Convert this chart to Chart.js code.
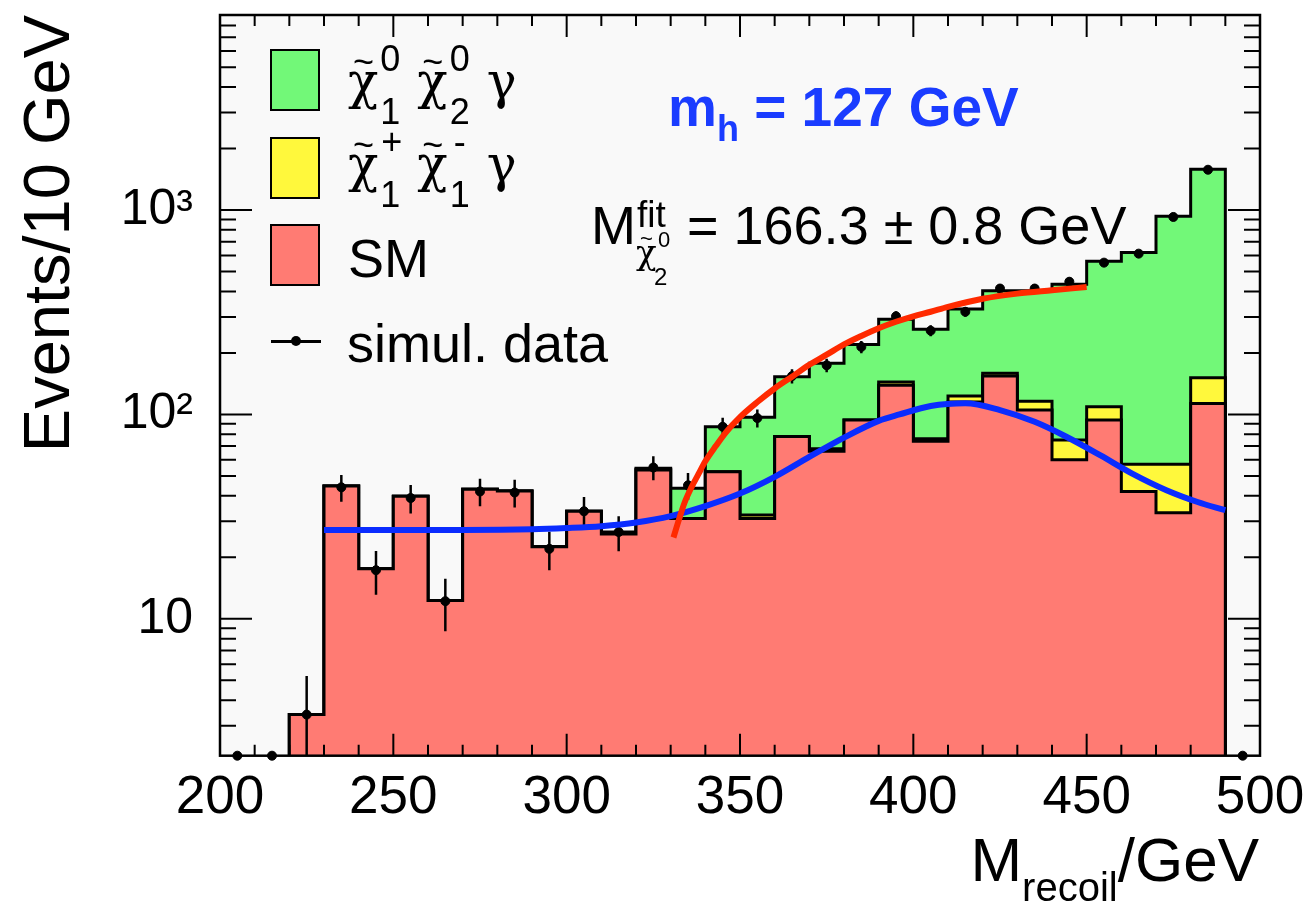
<!DOCTYPE html>
<html lang="en">
<head>
<meta charset="UTF-8">
<title>Recoil mass spectrum</title>
<script src="https://cdn.jsdelivr.net/npm/chart.js"></script>
<style>
  html, body { margin: 0; background: #fff; overflow: hidden; }
  #wrap { position: relative; width: 1310px; height: 904px; font-family: 'Liberation Sans', Arial, sans-serif; color: #000; }
  .txt { position: absolute; line-height: 1; white-space: nowrap; }
  .box { position: absolute; left: 270px; width: 50px; height: 62px; border: 2.5px solid #000; box-sizing: border-box; }
  .ss { display: inline-block; position: relative; height: 0; }
  .ss > span { position: absolute; line-height: 1; }
  .chi { position: relative; display: inline-block; font-family: 'DejaVu Serif', serif; font-size: 50px; }
  .chi .tl { position: absolute; left: 5px; top: -12px; font-family: 'Liberation Sans', Arial, sans-serif; font-size: 36px; }
  .chi.sm { font-size: 34px; }
  .chi.sm .tl { left: 4px; top: -7px; font-size: 22px; }
  .gam { font-family: 'DejaVu Serif', serif; font-size: 50px; }
</style>
</head>
<body>
<div id="wrap">
  <canvas id="plot"></canvas>

  <div class="box" style="top:49px; background:#72f878"></div>
  <div class="box" style="top:137px; background:#fff83c"></div>
  <div class="box" style="top:224px; background:#ff7b73"></div>
  <div style="position:absolute; left:271px; top:340px; width:50px; height:2.5px; background:#000"></div>
  <div style="position:absolute; left:291px; top:336px; width:10px; height:10px; border-radius:50%; background:#000"></div>

  <div class="txt" style="left:348px; top:52px; font-size:54px"><span class="chi">χ<span class="tl">~</span></span><span class="ss" style="width:24px"><span style="font-size:36px; left:2px; bottom:21px">0</span><span style="font-size:36px; left:2px; bottom:-32px">1</span></span> <span class="chi">χ<span class="tl">~</span></span><span class="ss" style="width:24px"><span style="font-size:36px; left:2px; bottom:21px">0</span><span style="font-size:36px; left:2px; bottom:-32px">2</span></span> <span class="gam">γ</span></div>
  <div class="txt" style="left:348px; top:135px; font-size:54px"><span class="chi">χ<span class="tl">~</span></span><span class="ss" style="width:24px"><span style="font-size:36px; left:3px; bottom:21px">+</span><span style="font-size:36px; left:2px; bottom:-32px">1</span></span> <span class="chi">χ<span class="tl">~</span></span><span class="ss" style="width:24px"><span style="font-size:36px; left:6px; bottom:21px">-</span><span style="font-size:36px; left:2px; bottom:-32px">1</span></span> <span class="gam">γ</span></div>
  <div class="txt" style="left:348px; top:231px; font-size:54px">SM</div>
  <div class="txt" style="left:347px; top:316px; font-size:54px">simul. data</div>

  <div class="txt" style="left:668px; top:80px; font-size:55px; font-weight:bold; color:#1a3cff">m<span style="font-size:36px; vertical-align:-15px">h</span> = 127 GeV</div>
  <div class="txt" style="left:591px; top:198px; font-size:54px">M<span class="ss" style="width:36px"><span style="font-size:37px; left:1px; bottom:11px">fit</span><span style="font-size:34px; left:0; bottom:-25px"><span class="chi sm">χ<span class="tl">~</span></span></span><span style="font-size:22px; left:22px; bottom:-7px">0</span><span style="font-size:24px; left:18px; bottom:-45px">2</span></span> = 166.3 ± 0.8 GeV</div>

  <div class="txt" style="right:51px; top:829px; font-size:62px">M<span style="font-size:40px; vertical-align:-20px">recoil</span>/GeV</div>
</div>

<script>
  // 10 GeV bins of the recoil mass
  const binEdges = [200, 210, 220, 230, 240, 250, 260, 270, 280, 290, 300, 310, 320, 330, 340, 350,
                    360, 370, 380, 390, 400, 410, 420, 430, 440, 450, 460, 470, 480, 490, 500];

  // stacked contributions, events per bin
  const smEvents =         [0, 0, 3.4, 44.6, 17.6, 39.8, 12.3, 43, 42.2, 22.5, 33.6, 26, 53.5, 31, 52.5,
                            31, 78, 66, 94, 139, 74, 115, 154, 105, 60, 94, 42, 33, 113, 0];
  const charginoEvents =   [0, 0, 0, 0, 0, 0, 0, 0, 0, 0, 0, 0.3, 0.5, 0, 0,
                            1.2, 0, 2, 0, 5, 2, 8, 5, 11, 15, 15, 15, 24, 38, 0];
  const neutralinoEvents = [0, 0, 0, 0, 0, 0, 0, 0, 0, 0, 0, 0.3, 0.5, 12.5, 34.5,
                            64.8, 75, 110, 126, 148, 185, 205, 244, 287, 359, 453, 563, 876, 1434, 0];

  const simData = [0, 0, 3.4, 44, 17.3, 39, 12.2, 42, 41.5, 22, 33.6, 26.6, 55, 45, 87,
                   96, 154, 174, 214, 302, 257, 318, 413, 413, 446, 553, 612, 925, 1575, 0];
  const simErr  = [0, 0, 1.85, 6.6, 4.2, 6.2, 3.5, 6.5, 6.4, 4.7, 5.8, 5.2, 7.4, 6.7, 9.3,
                   9.8, 12.4, 13.2, 14.6, 17.4, 16, 17.8, 20.3, 20.3, 21.1, 23.5, 24.7, 30.4, 39.7, 0];

  // fitted curves
  const fitChiX = [330.8, 332.5, 334, 336, 338, 340, 343, 346, 350, 355, 360, 365, 370, 375, 380,
                   385, 390, 395, 400, 405, 410, 420, 430, 440, 450];
  const fitChiY = [25, 31, 37, 44, 51, 59, 70, 82, 97, 115, 134, 153, 175, 196, 220,
                   242, 264, 284, 302, 318, 336, 368, 390, 405, 420];
  const fitSmX = [230, 250, 270, 290, 300, 310, 320, 330, 340, 350, 360, 370, 380, 390, 396,
                  405, 415, 425, 435, 444, 454, 463, 473, 482, 490];
  const fitSmY = [27.2, 27.2, 27.2, 27.4, 27.8, 28.4, 29.6, 31.8, 35.6, 41, 49.5, 62, 77, 93, 100,
                  110, 113.5, 105, 92, 78, 63, 51.5, 42.6, 37.3, 34];

  const yTickValues = [10, 100, 1000];
  const yTickLabels = ['10', '10²', '10³'];

  const Y_MIN = 2.14, Y_MAX = 9000;
  const FONT = "'Liberation Sans', Arial, sans-serif";

  const binCentres = binEdges.slice(0, -1).map((e, i) => (e + binEdges[i + 1]) / 2);

  // outline of a stacked histogram, closed down to the axis at both ends
  function stackLine(parts) {
    const tot = binCentres.map((c, i) => parts.reduce((s, p) => s + p[i], 0));
    const used = tot.map((t, i) => t > 0 ? i : -1).filter(i => i >= 0);
    const first = used[0], last = used[used.length - 1];
    const pts = [{x: binEdges[first], y: Y_MIN}];
    for (let i = first; i <= last; i++) pts.push({x: binEdges[i], y: tot[i]});
    pts.push({x: binEdges[last + 1], y: tot[last]});
    pts.push({x: binEdges[last + 1], y: Y_MIN});
    return pts;
  }

  function histSet(label, parts, color) {
    return {
      label: label,
      data: stackLine(parts),
      stepped: true,
      fill: 'start',
      backgroundColor: color,
      borderColor: '#000',
      borderWidth: 3,
      borderJoinStyle: 'miter',
      pointRadius: 0
    };
  }

  const DATA_INDEX = 2;

  const errorBars = {
    id: 'errorBars',
    beforeDatasetDraw(chart, args) {
      if (args.index !== DATA_INDEX) return;
      const {ctx, chartArea: a, scales: {x, y}} = chart;
      ctx.save();
      ctx.beginPath();
      ctx.rect(a.left, a.top, a.width, a.height);
      ctx.clip();
      ctx.strokeStyle = '#000';
      ctx.lineWidth = 2.5;
      ctx.beginPath();
      simData.forEach((v, i) => {
        if (v <= 0 || simErr[i] <= 0) return;
        const px = x.getPixelForValue(binCentres[i]);
        ctx.moveTo(px, y.getPixelForValue(v + simErr[i]));
        ctx.lineTo(px, y.getPixelForValue(Math.max(v - simErr[i], Y_MIN / 2)));
      });
      ctx.stroke();
      ctx.restore();
    }
  };

  const frame = {
    id: 'frame',
    beforeDraw(chart) {
      const {ctx, chartArea: a} = chart;
      ctx.save();
      ctx.fillStyle = '#f9f9f9';
      ctx.fillRect(a.left, a.top, a.width, a.height);
      ctx.restore();
    },
    afterDraw(chart) {
      const {ctx, chartArea: a, scales: {x, y}} = chart;
      ctx.save();
      ctx.strokeStyle = '#000';
      ctx.lineWidth = 2;
      ctx.beginPath();
      for (let v = 200; v <= 500; v += 10) {
        const px = x.getPixelForValue(v);
        const len = v % 50 === 0 ? 22 : 11;
        ctx.moveTo(px, a.bottom); ctx.lineTo(px, a.bottom - len);
        ctx.moveTo(px, a.top); ctx.lineTo(px, a.top + len);
      }
      for (let d = 1; d <= 1000; d *= 10) {
        for (let m = 1; m <= 9; m++) {
          const v = m * d;
          if (v < Y_MIN || v > Y_MAX) continue;
          const py = y.getPixelForValue(v);
          const len = m === 1 ? 32 : 16;
          ctx.moveTo(a.left, py); ctx.lineTo(a.left + len, py);
          ctx.moveTo(a.right, py); ctx.lineTo(a.right - len, py);
        }
      }
      ctx.stroke();
      ctx.lineWidth = 2.5;
      ctx.strokeRect(a.left, a.top, a.width, a.height);
      ctx.restore();
    }
  };

  new Chart(document.getElementById('plot'), {
    type: 'line',
    data: {
      datasets: [
        {
          label: 'fit neutralino',
          data: fitChiX.map((x, i) => ({x: x, y: fitChiY[i]})),
          borderColor: '#ff2a00',
          borderWidth: 6,
          pointRadius: 0,
          cubicInterpolationMode: 'monotone',
          fill: false
        },
        {
          label: 'fit SM',
          data: fitSmX.map((x, i) => ({x: x, y: fitSmY[i]})),
          borderColor: '#0a2cff',
          borderWidth: 6,
          pointRadius: 0,
          cubicInterpolationMode: 'monotone',
          fill: false
        },
        {
          label: 'simul. data',
          data: binCentres.map((x, i) => ({x: x, y: simData[i] > 0 ? simData[i] : Y_MIN})),
          showLine: false,
          pointRadius: 4.5,
          pointBackgroundColor: '#000',
          pointBorderColor: '#000',
          clip: false
        },
        histSet('SM', [smEvents], '#ff7b73'),
        histSet('chargino', [smEvents, charginoEvents], '#fff83c'),
        histSet('neutralino', [smEvents, charginoEvents, neutralinoEvents], '#72f878')
      ]
    },
    options: {
      animation: false,
      responsive: true,
      maintainAspectRatio: false,
      layout: {padding: {top: 15, right: 50, left: 0, bottom: 0}},
      plugins: {legend: {display: false}, tooltip: {enabled: false}},
      scales: {
        x: {
          type: 'linear',
          min: 200,
          max: 500,
          afterFit: s => { s.height = 148.3; s.paddingLeft = 0; s.paddingRight = 0; },
          grid: {display: false, drawTicks: false},
          border: {display: false},
          ticks: {stepSize: 50, padding: 11, color: '#000', maxRotation: 0, autoSkip: false,
                  font: {size: 53, family: FONT, lineHeight: 1.2}}
        },
        y: {
          type: 'logarithmic',
          min: Y_MIN,
          max: Y_MAX,
          afterFit: s => { s.width = 220; s.paddingTop = 0; s.paddingBottom = 0; },
          afterBuildTicks: s => { s.ticks = yTickValues.map(v => ({value: v})); },
          grid: {display: false, drawTicks: false},
          border: {display: false},
          ticks: {padding: 27, color: '#000', font: {size: 50, family: FONT},
                  callback: (v, i) => yTickLabels[i]},
          title: {display: true, text: 'Events/10 GeV', align: 'end', color: '#000',
                  font: {size: 65, family: FONT, lineHeight: 1.2}, padding: {top: 12, bottom: 0}}
        }
      }
    },
    plugins: [errorBars, frame]
  });
</script>
</body>
</html>
